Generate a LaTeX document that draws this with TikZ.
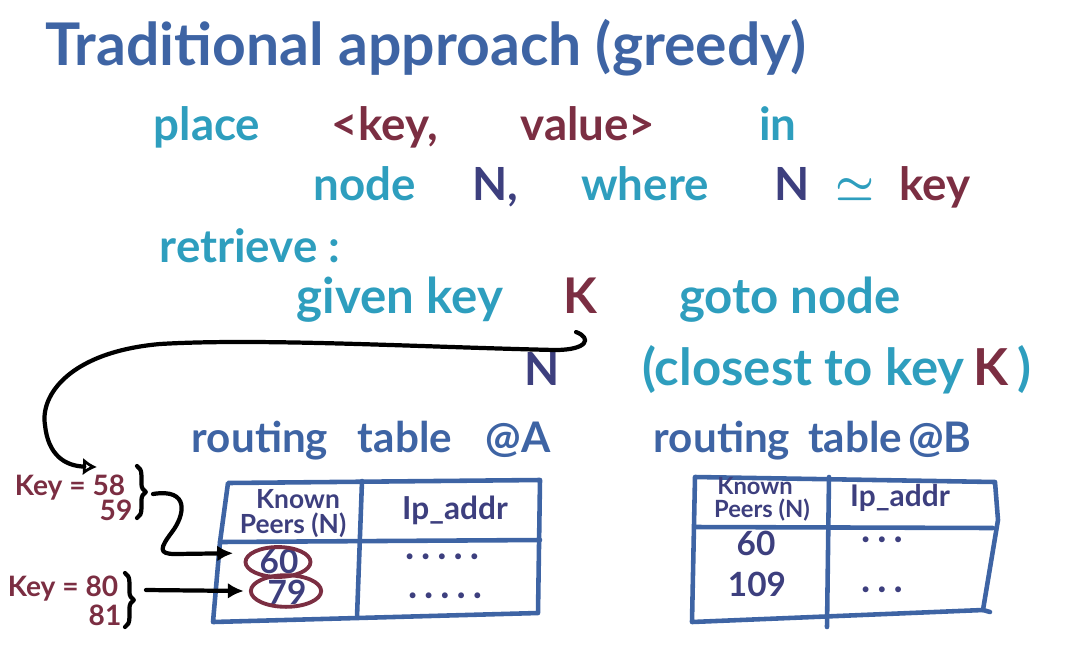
\documentclass[tikz,border=0pt]{standalone}
\usepackage{fontspec}
\setmainfont{Lato}
\usetikzlibrary{arrows.meta,shapes.geometric,decorations.pathreplacing}
\definecolor{tblue}{HTML}{3E64A4}
\definecolor{tteal}{HTML}{2E9EBE}
\definecolor{tmaroon}{HTML}{7B2E42}
\definecolor{tnavy}{HTML}{3D3F7E}
\newcommand\dts[1]{\foreach \i in {1,...,#1}{\ifnum\i>1\hspace{4pt}\fi\textbullet}}
\begin{document}
\begin{tikzpicture}[x=0.02cm,y=-0.02cm,line cap=round,line join=round,
  w/.style={inner sep=0pt,anchor=base,font=\bfseries\fontsize{26}{28}\selectfont},
  ttl/.style={inner sep=0pt,anchor=base west,text=tblue,font=\bfseries\fontsize{33.5}{35}\selectfont},
  tl/.style={w,text=tteal},
  mr/.style={w,text=tmaroon},
  nv/.style={w,text=tnavy},
  rt/.style={w,text=tblue,font=\bfseries\fontsize{24}{26}\selectfont},
  cell/.style={inner sep=0pt,anchor=center,text=tnavy,font=\bfseries\fontsize{15}{16}\selectfont},
  num/.style={inner sep=0pt,anchor=center,text=tnavy,font=\bfseries\fontsize{19}{20}\selectfont},
  dot/.style={inner sep=0pt,anchor=center,text=tnavy,font=\fontsize{9}{10}\selectfont},
  keylbl/.style={inner sep=0pt,anchor=base,text=tmaroon,font=\bfseries\fontsize{16}{17}\selectfont},
  grid/.style={draw=tblue,line width=2.6pt},
  circ/.style={draw=tmaroon,line width=2.2pt,ellipse,inner sep=0pt},
  arr/.style={draw=black,line width=2.4pt,-{Latex[length=9pt,width=9pt]}},
  arro/.style={draw=black,line width=2.4pt,-{Latex[open,length=8pt,width=10pt]}},
  brc/.style={draw=black,line width=2.4pt,decorate,decoration={brace,amplitude=5pt}}]
\useasboundingbox (0,0) rectangle (1072,647);
% title
\node[ttl] (title) at (45,65) {Traditional approach (greedy)};
% place line
\node[tl] (place) at (207,140) {place};
\node[mr] (keyw) at (385,140) {<key,};
\node[mr] (valw) at (588,140) {value>};
\node[tl] (in) at (778,140) {in};
% node line
\node[tl] (nodew) at (365,200) {node};
\node[nv] (N1) at (495,200) {N,};
\node[tl] (where) at (645,200) {where};
\node[nv] (N2) at (792,200) {N};
\node[tl,font=\boldmath\fontsize{26}{28}\selectfont] (sim) at (855,200) {$\simeq$};
\node[mr] (key2) at (935,200) {key};
% retrieve
\node[tl] (retr) at (250,262) {retrieve :};
% given line
\node[tl,font=\bfseries\fontsize{28}{30}\selectfont] (given) at (400,313) {given key};
\node[mr,font=\bfseries\fontsize{28}{30}\selectfont] (K) at (580,313) {K};
\node[tl,font=\bfseries\fontsize{28}{30}\selectfont] (goto) at (790,313) {goto node};
% N (closest to key K)
\node[nv] (N3) at (542,385) {N};
\node[tl,anchor=base west,font=\bfseries\fontsize{29}{31}\selectfont] (closest) at (642,385) {(closest to key};
\node[mr,anchor=base west,font=\bfseries\fontsize{29}{31}\selectfont] (K2) at (closest.base east) {\,K};
\node[tl,anchor=base west,font=\bfseries\fontsize{29}{31}\selectfont] (rp) at (K2.base east) {\,)};
% routing tables titles
\node[rt] (rA1) at (260,452) {routing};
\node[rt] (rA2) at (405,452) {table};
\node[rt] (rA3) at (518,452) {@A};
\node[rt] (rB1) at (722,452) {routing};
\node[rt] (rB2) at (855,452) {table};
\node[rt] (rB3) at (940,452) {@B};
% table A
\draw[grid] (228,483) -- (540,480) -- (538,613) -- (213,622) -- (220,542) -- cycle;
\draw[grid] (220,542) -- (540,540);
\draw[grid] (362,481) -- (357,617);
\node[cell] (kA1) at (298,499) {Known};
\node[cell] (kA2) at (293,525) {Peers (N)};
\node[cell,font=\bfseries\fontsize{18}{19}\selectfont] (ipA) at (455,510) {Ip\_addr};
\node[num] (a60) at (279,561) {60};
\node[num] (a79) at (287,592) {79};
\node[circ,minimum width=37pt,minimum height=17pt] (e60) at (278,562) {};
\node[circ,minimum width=40pt,minimum height=18pt] (e79) at (286,591) {};
\node[dot] (dA1) at (442,558) {\dts{5}};
\node[dot] (dA2) at (445,597) {\dts{5}};
% table B
\draw[grid] (695,477) -- (995,482) -- (998,520) -- (983,610) -- (692,622) -- cycle;
\draw[grid] (983,610) -- (990,612);
\draw[grid] (695,527) -- (993,528);
\draw[grid] (829,477) -- (827,627);
\node[cell,font=\bfseries\fontsize{13.5}{14}\selectfont] (kB1) at (755,486) {Known};
\node[cell,font=\bfseries\fontsize{13.5}{14}\selectfont] (kB2) at (762,510) {Peers (N)};
\node[cell,font=\bfseries\fontsize{17}{18}\selectfont] (ipB) at (900,498) {Ip\_addr};
\node[num] (b60) at (756,543) {60};
\node[num] (b109) at (757,584) {109};
\node[dot] (dB1) at (882,541) {\dts{3}};
\node[dot] (dB2) at (882,591) {\dts{3}};
% key labels
\node[keylbl] (k58) at (70,495) {Key = 58};
\node[keylbl] (k59) at (116,520) {59};
\node[keylbl] (k80) at (63,596) {Key = 80};
\node[keylbl] (k81) at (105,625) {81};
\draw[brc] (137,466) -- (137,518);
\draw[brc] (125,573) -- (125,627);
\coordinate (b1) at (153,494);
\coordinate (b2) at (146,590);
\coordinate (tip58) at (97,467);
\coordinate (hs) at (576,332);
% arrows
\draw[arro] (hs) .. controls (592,338) and (588,350) .. (555,350)
  .. controls (420,347) and (260,338) .. (160,344)
  .. controls (70,352) and (40,395) .. (45,425)
  .. controls (48,455) and (65,466) .. (tip58);
\draw[arr] (b1) .. controls (190,488) and (185,515) .. (172,532)
  .. controls (160,548) and (158,554) .. (175,554) -- ([xshift=-6pt,yshift=5pt]e60.west);
\draw[arr] (b2) -- ([xshift=-3pt]e79.west);
\end{tikzpicture}
\end{document}
